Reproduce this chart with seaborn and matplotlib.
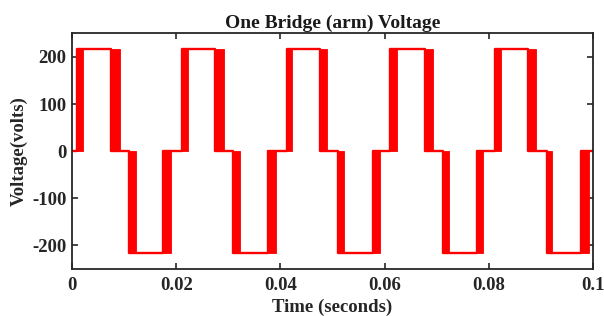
import matplotlib
matplotlib.use("Agg")
import matplotlib.pyplot as plt
import seaborn as sns
import pandas as pd

# Switching bands (seconds); level reached after each band (volts)
band_start = [0.0009, 0.0075, 0.01095, 0.0175, 0.0210, 0.0275, 0.0309, 0.0377,
              0.0412, 0.0476, 0.0511, 0.0577, 0.0611, 0.0678, 0.0713, 0.0777,
              0.0812, 0.0876, 0.0912, 0.0978]
band_end = [0.0020, 0.0091, 0.0122, 0.0190, 0.0222, 0.0291, 0.0322, 0.0391,
            0.0422, 0.0490, 0.0522, 0.0591, 0.0623, 0.0693, 0.0723, 0.0790,
            0.0823, 0.0892, 0.0922, 0.0992]
level_after = [216, 0, -216, 0, 216, 0, -216, 0, 216, 0,
               -216, 0, 216, 0, -216, 0, 216, 0, -216, 0]
t_end = 0.1

x_ticks = [0, 0.02, 0.04, 0.06, 0.08, 0.1]
x_tick_labels = ["0", "0.02", "0.04", "0.06", "0.08", "0.1"]
y_ticks = [-200, -100, 0, 100, 200]


def build_line():
    t, v = [0.0], [0]
    prev = 0
    for s, lvl in zip(band_start, level_after):
        t += [s, s]
        v += [prev, lvl]
        prev = lvl
    t.append(t_end)
    v.append(prev)
    return pd.DataFrame({"Time": t, "Voltage": v})


def main():
    sns.set_theme(style="ticks")
    plt.rcParams["font.family"] = ["Liberation Serif", "DejaVu Serif"]
    plt.rcParams["font.weight"] = "bold"
    plt.rcParams["axes.unicode_minus"] = False

    fig = plt.figure(figsize=(6.04, 3.16), dpi=100)
    ax = fig.add_axes([72.3 / 604, 1 - 269 / 316, 520.4 / 604, 235.7 / 316])

    df = build_line()
    sns.lineplot(data=df, x="Time", y="Voltage", sort=False, estimator=None,
                 color="#ff0000", linewidth=1.7, ax=ax)

    # chattering bands drawn as filled blocks between the two levels
    prev = 0
    for s, e, lvl in zip(band_start, band_end, level_after):
        ax.fill_between([s, e], min(prev, lvl), max(prev, lvl),
                        color="#ff0000", linewidth=0.6)
        prev = lvl

    ax.set_xlim(0, 0.1)
    ax.set_ylim(-250, 250)
    ax.set_xticks(x_ticks)
    ax.set_xticklabels(x_tick_labels)
    ax.set_yticks(y_ticks)
    ax.tick_params(direction="in", length=4, width=1.2, top=True, right=True,
                   labelsize=13.5, color="#262626", labelcolor="#262626")
    ax.tick_params(axis="x", pad=6)
    ax.tick_params(axis="y", pad=4)
    for sp in ax.spines.values():
        sp.set_visible(True)
        sp.set_linewidth(1.3)
        sp.set_color("#262626")
    for lab in ax.get_xticklabels() + ax.get_yticklabels():
        lab.set_fontweight("bold")

    ax.set_title("One Bridge (arm) Voltage", fontsize=14, fontweight="bold",
                 color="#1a1a1a", pad=4)
    ax.set_xlabel("Time (seconds)", fontsize=13.5, fontweight="bold",
                  color="#262626", labelpad=3)
    ax.set_ylabel("Voltage(volts)", fontsize=13.5, fontweight="bold",
                  color="#262626", labelpad=3)

    fig.savefig("out.png", dpi=100)


if __name__ == "__main__":
    main()
